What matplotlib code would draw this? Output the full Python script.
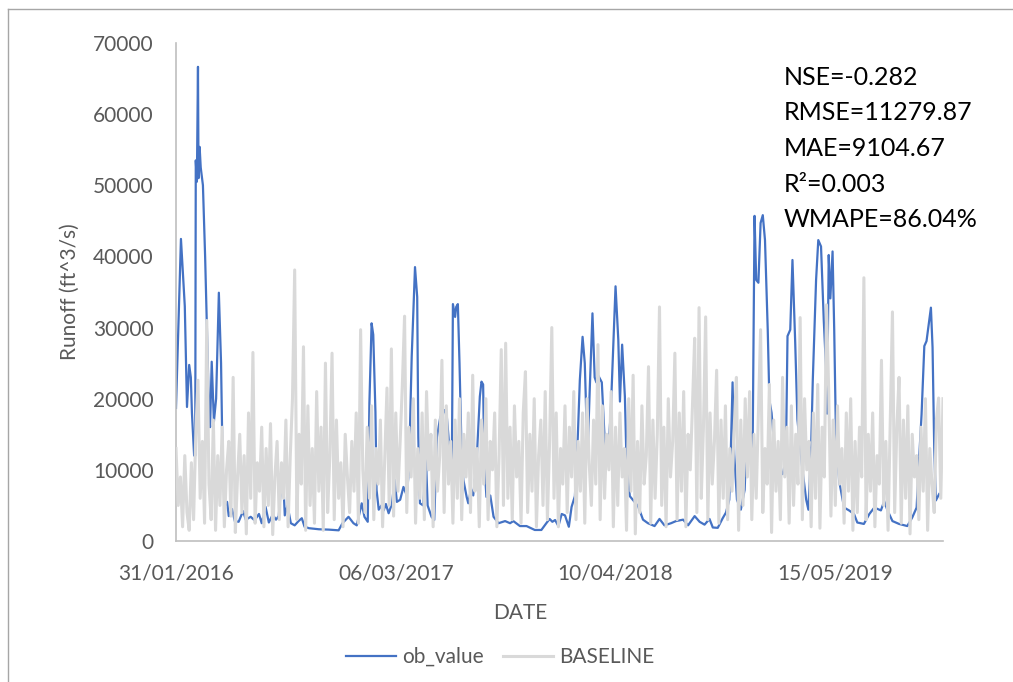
"""Observed runoff vs. baseline prediction, Excel-style line chart."""

import matplotlib
matplotlib.use('Agg')
import matplotlib.pyplot as plt
import matplotlib.dates as mdates
from matplotlib.lines import Line2D
import numpy as np
import pandas as pd

plt.rcParams['font.family'] = ['Lato', 'DejaVu Sans']

START = pd.Timestamp('2016-01-31')

# observed runoff (ft^3/s): days since 31/01/2016 and value
ob_day = [
    0, 9, 16, 20, 24, 27, 29, 33, 35, 36, 38, 40, 41, 43, 45, 49, 53, 56, 60, 62,
    65, 69, 73, 78, 82, 85, 89, 93, 96, 102, 107, 114, 122, 127, 136, 143, 151, 156, 163, 169,
    176, 182, 187, 194, 198, 203, 209, 216, 223, 229, 234, 242, 260, 278, 296, 303, 314, 323, 329, 338,
    343, 349, 352, 356, 359, 363, 365, 369, 374, 378, 382, 387, 393, 398, 402, 408, 414, 420, 424, 429,
    435, 439, 441, 444, 450, 455, 458, 465, 470, 475, 481, 489, 493, 496, 499, 502, 504, 508, 510, 513,
    516, 520, 523, 529, 532, 537, 541, 547, 553, 556, 559, 561, 565, 572, 578, 587, 599, 608, 614, 626,
    638, 653, 665, 674, 680, 685, 690, 696, 702, 708, 715, 720, 726, 731, 735, 740, 744, 749, 753, 758,
    762, 765, 769, 775, 780, 785, 791, 800, 805, 808, 812, 817, 820, 826, 841, 850, 859, 871, 880, 889,
    901, 910, 923, 932, 944, 953, 962, 971, 977, 986, 995, 1001, 1007, 1010, 1013, 1016, 1021, 1028, 1035, 1039,
    1042, 1047, 1049, 1053, 1056, 1060, 1064, 1068, 1072, 1077, 1080, 1084, 1089, 1095, 1104, 1110, 1113, 1118, 1122, 1127,
    1131, 1140, 1147, 1151, 1156, 1159, 1165, 1169, 1174, 1179, 1183, 1185, 1188, 1191, 1195, 1198, 1201, 1207, 1216, 1225,
    1234, 1240, 1252, 1262, 1271, 1283, 1289, 1295, 1304, 1316, 1331, 1340, 1348, 1352, 1357, 1362, 1366, 1371, 1374, 1377,
    1380, 1383, 1389,
]
ob_value = [
    18700, 42460, 33000, 18840, 24750, 23000, 18000, 12000, 12000, 53500, 50500, 66650, 51000, 55400, 52500, 50000, 40000, 30600, 18500, 16000,
    25200, 16800, 20000, 34900, 25000, 10000, 5000, 5500, 3500, 4500, 2800, 2700, 4200, 3000, 3400, 2900, 3800, 2500, 4800, 2600,
    3700, 3000, 3500, 10400, 3600, 5000, 2500, 2200, 2800, 3200, 2000, 1800, 1650, 1600, 1500, 2500, 3400, 2500, 2200, 5300,
    3400, 2700, 19400, 30600, 29000, 18100, 7200, 4400, 5000, 4300, 5200, 3900, 5200, 8600, 5500, 5800, 7600, 6400, 10000, 25900,
    38500, 34300, 14600, 5300, 5000, 11400, 5000, 3400, 2950, 14600, 17400, 18400, 17400, 14600, 11000, 9600, 33300, 31500, 32900, 33300,
    25000, 11800, 8600, 6200, 5300, 7300, 6400, 11000, 20300, 22400, 22000, 11400, 6200, 6400, 3400, 2500, 2800, 2500, 2800, 2100,
    2100, 1550, 1550, 2500, 3100, 2700, 2950, 2100, 3800, 3600, 2000, 4800, 6300, 14000, 22600, 28700, 25000, 11800, 21200, 32000,
    23000, 22300, 23200, 22300, 14600, 11400, 17500, 35800, 28300, 19600, 27600, 20300, 11000, 6300, 4900, 3000, 2500, 2100, 3100, 2200,
    2500, 2800, 3000, 2200, 3500, 2700, 2300, 3100, 1900, 1850, 3200, 4000, 5800, 13200, 22300, 12200, 5800, 4400, 7200, 15500,
    16400, 14700, 8000, 45700, 36700, 36300, 44700, 45800, 42300, 29700, 19800, 18000, 13200, 10400, 9400, 11300, 28800, 29700, 39500, 27900,
    17100, 10100, 5800, 4400, 13200, 22600, 36700, 42300, 41400, 31000, 24500, 17900, 40200, 34100, 40700, 29700, 15500, 8400, 4700, 4300,
    3800, 2600, 2400, 3800, 4700, 4300, 5600, 4300, 2800, 2400, 2100, 3300, 4700, 10800, 17800, 27400, 28100, 31000, 32800, 27200,
    13200, 5700, 6600,
]

# baseline prediction (ft^3/s), one value every 4 days from 31/01/2016
baseline = [
    13000, 5000, 9000, 2000, 12000, 4000, 1500, 11000, 3000, 15000,
    22600, 6000, 14000, 2500, 31000, 8000, 3000, 17000, 1500, 12000,
    5000, 16000, 2000, 10000, 14000, 3500, 23000, 1200, 9000, 15000,
    4000, 12000, 1000, 18000, 6000, 26500, 2500, 11000, 7000, 16000,
    2000, 13000, 5000, 16500, 900, 9000, 14000, 3000, 11000, 6000,
    17000, 2000, 12000, 20000, 38100, 3000, 15000, 8000, 27300, 1500,
    19000, 5000, 13000, 2500, 21000, 7000, 16000, 1500, 25000, 4000,
    12000, 26400, 3000, 17000, 6000, 11000, 2000, 15000, 9000, 4000,
    14000, 7000, 18000, 2500, 29700, 10000, 4000, 16000, 6000, 19000,
    3000, 13000, 8000, 17000, 2000, 12000, 21500, 5000, 27000, 3500,
    18000, 7000, 14000, 22000, 31600, 4000, 16000, 9000, 20000, 2500,
    13000, 6000, 18000, 3000, 21000, 10000, 15000, 2000, 17000, 7000,
    12000, 25400, 4000, 19000, 8000, 14000, 2500, 17000, 6000, 20000,
    3000, 15000, 9000, 18000, 4000, 23300, 7000, 13000, 2000, 17000,
    8000, 20000, 3000, 14000, 10000, 18000, 2000, 12000, 26900, 5000,
    27800, 6000, 16000, 3000, 19000, 9000, 14000, 2500, 18000, 23800,
    4000, 15000, 7000, 20000, 2000, 12000, 17000, 5000, 21000, 3000,
    14000, 30000, 6000, 18000, 2000, 13000, 8000, 19000, 4000, 16000,
    9000, 21000, 3000, 14000, 7000, 18000, 2500, 20000, 11000, 5000,
    17000, 8000, 27600, 3000, 19000, 6000, 15000, 10000, 21000, 2000,
    16000, 5000, 18000, 9000, 13000, 1500, 20000, 7000, 23300, 1000,
    14000, 4000, 19000, 8000, 12000, 24500, 2500, 17000, 6000, 15000,
    32900, 5000, 16000, 2000, 20000, 9000, 14000, 26400, 3000, 18000,
    7000, 21000, 2000, 15000, 10000, 19000, 28500, 4000, 32800, 6000,
    16000, 31500, 3000, 18000, 8000, 14000, 24000, 2500, 17000, 6000,
    19000, 3000, 13000, 7000, 16000, 23000, 1500, 17000, 5000, 20000,
    9000, 21000, 3000, 15000, 6000, 18000, 29700, 4000, 13000, 8000,
    22000, 1200, 17000, 7000, 14000, 3000, 23000, 9000, 16000, 2500,
    19000, 5000, 15000, 8000, 31400, 3000, 20000, 10000, 14000, 2000,
    18000, 6000, 22000, 1800, 16000, 9000, 33200, 21000, 3500, 17000,
    5000, 19000, 8000, 13000, 2500, 18000, 7000, 20000, 1500, 14000,
    4000, 16000, 9000, 37000, 3000, 15000, 7000, 18000, 2000, 12000,
    8000, 25400, 5000, 14000, 1500, 17000, 32200, 4000, 16000, 23000,
    2500, 17000, 6000, 19000, 1000, 15000, 9000, 12000, 3000, 16000,
    7000, 20000, 1500, 13000, 8000, 4000, 17000, 20100, 6000, 20000,
]

tick_days = [0, 400, 800, 1200]
metrics = ['NSE=-0.282', 'RMSE=11279.87', 'MAE=9104.67', 'R²=0.003', 'WMAPE=86.04%']

W, H = 1013, 682
fig = plt.figure(figsize=(W / 100, H / 100), dpi=100)
ax = fig.add_axes([176 / W, 1 - 541 / H, (943 - 176) / W, (541 - 43) / H])

ob_dates = START + pd.to_timedelta(ob_day, unit='D')
base_dates = pd.date_range(START, periods=len(baseline), freq='4D')

ax.plot(ob_dates, ob_value, color='#4472C4', lw=1.6, label='ob_value', zorder=2)
ax.plot(base_dates, baseline, color='#D9D9D9', lw=2.2, label='BASELINE', zorder=3)

ax.set_xlim(START, START + pd.Timedelta(days=1396))
ax.set_ylim(0, 70000)
ax.set_yticks(np.arange(0, 70001, 10000))
ax.set_xticks(START + pd.to_timedelta(tick_days, unit='D'))
ax.xaxis.set_major_formatter(mdates.DateFormatter('%d/%m/%Y'))
ax.tick_params(length=0, labelsize=15, labelcolor='#595959')
ax.tick_params(axis='y', pad=16)
ax.tick_params(axis='x', pad=16)

for side in ['top', 'right']:
    ax.spines[side].set_visible(False)
for side in ['left', 'bottom']:
    ax.spines[side].set_color('#BFBFBF')
    ax.spines[side].set_linewidth(1.2)

fig.text(70 / W, 1 - 292 / H, 'Runoff (ft^3/s)', rotation=90, ha='center', va='center',
         fontsize=15, color='#595959')
fig.text(520 / W, 1 - 613 / H, 'DATE', ha='center', va='center', fontsize=15, color='#595959')

# metrics box in the top right
for i, line in enumerate(metrics):
    fig.text(784 / W, 1 - (85 + 35.5 * i) / H, line, ha='left', va='baseline',
             fontsize=18, color='black')

fig.legend(loc='center', bbox_to_anchor=(500 / W, 1 - 657 / H), ncol=2, frameon=False,
           fontsize=15, handlelength=2.4, handletextpad=0.3, columnspacing=0.9,
           labelcolor='#595959')

# chart area border (left and top edges are visible)
fig.add_artist(Line2D([8 / W, 8 / W], [0, 1 - 9 / H], color='#A6A6A6', lw=1.0))
fig.add_artist(Line2D([8 / W, 1], [1 - 9 / H, 1 - 9 / H], color='#A6A6A6', lw=1.0))

fig.savefig('out.png', dpi=100)
